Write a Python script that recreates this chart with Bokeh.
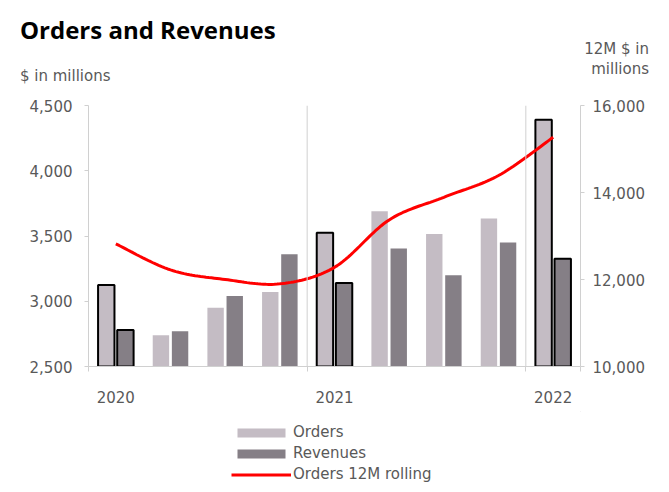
from bokeh.plotting import figure
from bokeh.layouts import column
from bokeh.models import (ColumnDataSource, Range1d, LinearAxis, FixedTicker, NumeralTickFormatter,
                          Span, Legend, LegendItem, CDSView, IndexFilter, Div)
from bokeh.embed import file_html
from bokeh.resources import INLINE

# ---- data ----
quarters = ["Q1 2020", "Q2 2020", "Q3 2020", "Q4 2020",
            "Q1 2021", "Q2 2021", "Q3 2021", "Q4 2021", "Q1 2022"]
orders = [3125, 2740, 2950, 3070, 3525, 3690, 3515, 3635, 4390]
revenues = [2780, 2770, 3040, 3360, 3140, 3405, 3200, 3450, 3325]
orders_12m = [12820, 12220, 12000, 11900, 12280, 13370, 13890, 14390, 15270]
year_labels = ["2020", "2021", "2022"]
year_start_idx = [0, 4, 8]

FONT = "DejaVu Sans"
TXT = "#595959"
AX = "#d0d0d0"
ORD_C = "#c4bcc4"
REV_C = "#857f86"
W = 653
HH = 92

# ---- header texts ----
header_html = f"""
<div style="position:relative;width:{W}px;height:{HH}px;">
  <span style="position:absolute;left:20px;top:18px;line-height:1;white-space:nowrap;
    font-family:'Open Sans';font-weight:bold;font-size:24px;color:black;">Orders and Revenues</span>
  <span style="position:absolute;left:20px;top:69px;line-height:1;white-space:nowrap;
    font-family:'DejaVu Sans';font-size:15px;color:{TXT};">$ in millions</span>
  <span style="position:absolute;right:{W - 649}px;top:42px;line-height:1;white-space:nowrap;text-align:right;
    font-family:'DejaVu Sans';font-size:15px;color:{TXT};">12M $ in</span>
  <span style="position:absolute;right:{W - 649}px;top:62px;line-height:1;white-space:nowrap;text-align:right;
    font-family:'DejaVu Sans';font-size:15px;color:{TXT};">millions</span>
</div>
"""
head = Div(text=header_html, width=W, height=HH, margin=0)

# ---- main chart ----
n = len(quarters)
centers = [i + 0.5 for i in range(n)]
src = ColumnDataSource(dict(
    xo=[c - 0.175 for c in centers],
    xr=[c + 0.175 for c in centers],
    orders=orders, revenues=revenues,
))

p = figure(width=W, height=13 + 261 + 45, output_backend="svg", toolbar_location=None,
           x_range=Range1d(0, n), y_range=Range1d(2500, 4500),
           min_border_left=88, min_border_right=W - 580, min_border_top=13, min_border_bottom=45)
p.extra_y_ranges = {"right": Range1d(10000, 16000)}
p.outline_line_color = None
p.xgrid.visible = False
p.ygrid.visible = False

p.vbar(x="xo", top="orders", bottom=2500, width=0.3, source=src,
       fill_color=ORD_C, line_color=None)
p.vbar(x="xr", top="revenues", bottom=2500, width=0.3, source=src,
       fill_color=REV_C, line_color=None)
view = CDSView(filter=IndexFilter(year_start_idx))
p.vbar(x="xo", top="orders", bottom=2500, width=0.3, source=src, view=view,
       fill_alpha=0, line_color="black", line_width=2)
p.vbar(x="xr", top="revenues", bottom=2500, width=0.3, source=src, view=view,
       fill_alpha=0, line_color="black", line_width=2)

def catmull(xs, ys, steps=20):
    px = [xs[0]] + list(xs) + [xs[-1]]
    py = [ys[0]] + list(ys) + [ys[-1]]
    ox, oy = [], []
    for i in range(1, len(px) - 2):
        for s in range(steps + (1 if i == len(px) - 3 else 0)):
            t = s / steps
            t2, t3 = t * t, t * t * t
            def f(a):
                p0, p1, p2, p3 = a[i - 1], a[i], a[i + 1], a[i + 2]
                return 0.5 * (2 * p1 + (-p0 + p2) * t + (2 * p0 - 5 * p1 + 4 * p2 - p3) * t2
                              + (-p0 + 3 * p1 - 3 * p2 + p3) * t3)
            ox.append(f(px)); oy.append(f(py))
    return ox, oy

lx, ly = catmull(centers, orders_12m)
p.line(lx, ly, y_range_name="right", line_color="#ff0000", line_width=3)

for i in year_start_idx[1:]:
    p.add_layout(Span(location=i, dimension="height", line_color=AX, line_width=1))

xa = p.xaxis[0]
xa.ticker = FixedTicker(ticks=[centers[i] for i in year_start_idx], minor_ticks=[0, 4, 8, 9])
xa.major_label_overrides = {centers[i]: lab for i, lab in zip(year_start_idx, year_labels)}
xa.major_tick_out = 0
xa.major_tick_in = 0
xa.minor_tick_out = 5
xa.minor_tick_in = 0
xa.minor_tick_line_color = AX
xa.axis_line_color = AX
xa.major_label_standoff = 19
xa.major_label_text_font = FONT
xa.major_label_text_font_size = "15px"
xa.major_label_text_color = TXT

ya = p.yaxis[0]
ya.ticker = FixedTicker(ticks=[2500, 3000, 3500, 4000, 4500])
ya.formatter = NumeralTickFormatter(format="0,0")
ya.axis_line_color = AX
ya.major_tick_line_color = AX
ya.major_tick_out = 4
ya.major_tick_in = 0
ya.minor_tick_line_color = None
ya.major_label_standoff = 12
ya.major_label_text_font = FONT
ya.major_label_text_font_size = "15px"
ya.major_label_text_color = TXT

ra = LinearAxis(y_range_name="right", ticker=FixedTicker(ticks=[10000, 12000, 14000, 16000]),
                formatter=NumeralTickFormatter(format="0,0"))
ra.axis_line_color = AX
ra.major_tick_line_color = AX
ra.major_tick_out = 4
ra.major_tick_in = 0
ra.minor_tick_line_color = None
ra.major_label_standoff = 8
ra.major_label_text_font = FONT
ra.major_label_text_font_size = "15px"
ra.major_label_text_color = TXT
p.add_layout(ra, "right")

# ---- footer with legend (legend-only proxy glyphs placed outside the footer's view) ----
FH = 73
foot = figure(width=W, height=FH, output_backend="svg", toolbar_location=None,
              x_range=Range1d(0, 1), y_range=Range1d(0, 1),
              min_border=0, x_axis_type=None, y_axis_type=None)
foot.outline_line_color = None
foot.xgrid.visible = False
foot.ygrid.visible = False
lo = foot.vbar(x=[5], top=[5], bottom=[4], width=0.1, fill_color=ORD_C, line_color=None)
lr = foot.vbar(x=[5], top=[5], bottom=[4], width=0.1, fill_color=REV_C, line_color=None)
ll = foot.line(x=[5, 6], y=[5, 5], line_color="#ff0000", line_width=3)
legend = Legend(items=[LegendItem(label="Orders", renderers=[lo]),
                       LegendItem(label="Revenues", renderers=[lr]),
                       LegendItem(label="Orders 12M rolling", renderers=[ll])],
                location=(143, 1), orientation="vertical",
                glyph_width=60, glyph_height=11, label_standoff=2,
                label_height=18, spacing=3, padding=0, margin=0,
                label_text_font=FONT, label_text_font_size="15px", label_text_color=TXT,
                border_line_alpha=0, background_fill_alpha=0)
foot.add_layout(legend, "center")

layout = column(head, p, foot, spacing=0)
open("out.html", "w").write(file_html(layout, INLINE))
